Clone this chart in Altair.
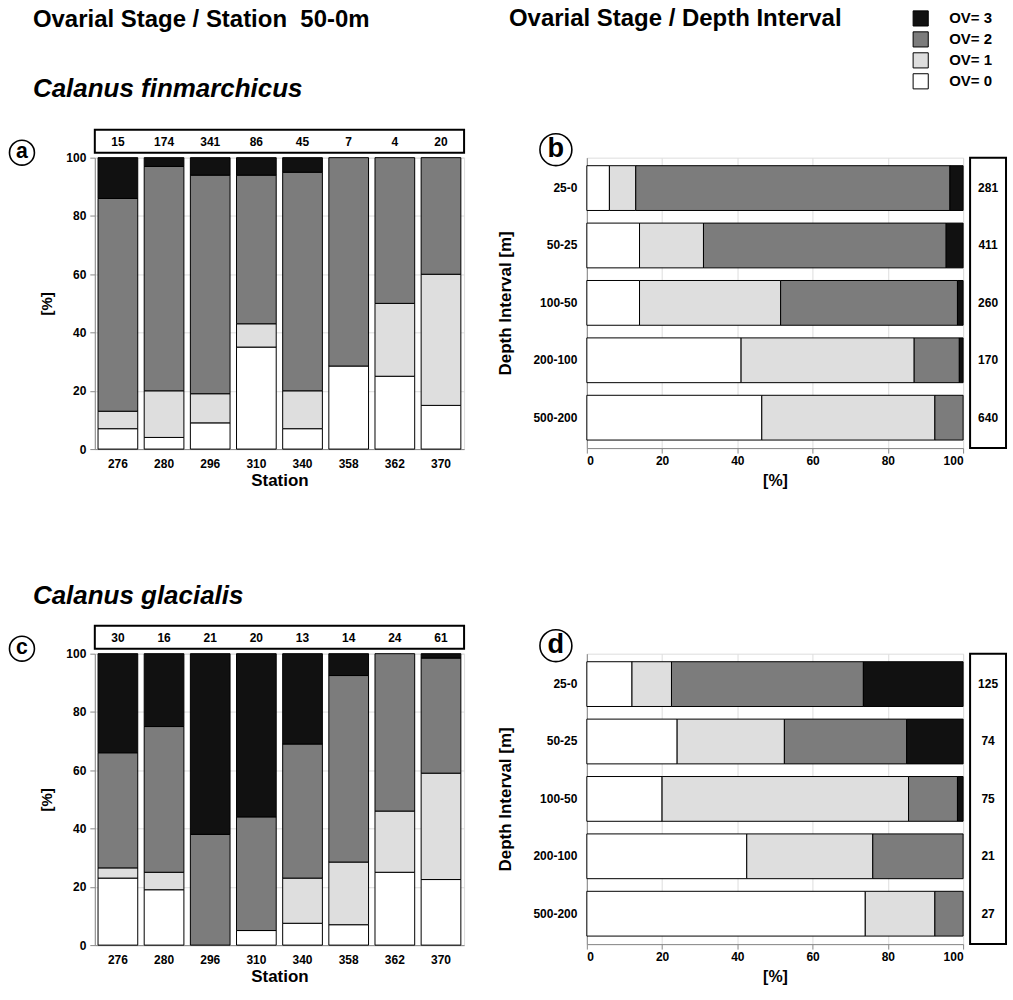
import altair as alt
import pandas as pd

FONT = "Liberation Sans"

stations = ["276", "280", "296", "310", "340", "358", "362", "370"]
depths = ["25-0", "50-25", "100-50", "200-100", "500-200"]
stages = ["OV= 3", "OV= 2", "OV= 1", "OV= 0"]
stage_colors = ["#111111", "#7c7c7c", "#dedede", "#ffffff"]

# Panel a: Calanus finmarchicus, per station (percent)
a_ov0 = [7, 4, 9, 35, 7, 28.5, 25, 15]
a_ov1 = [6, 16, 10, 8, 13, 0, 25, 45]
a_ov2 = [73, 77, 75, 51, 75, 71.5, 50, 40]
a_ov3 = [14, 3, 6, 6, 5, 0, 0, 0]
a_n = [15, 174, 341, 86, 45, 7, 4, 20]

# Panel b: Calanus finmarchicus, per depth interval
b_ov0 = [6, 14, 14, 41, 46.5]
b_ov1 = [7, 17, 37.5, 46, 46]
b_ov2 = [83.5, 64.5, 47, 12, 7.5]
b_ov3 = [3.5, 4.5, 1.5, 1, 0]
b_n = [281, 411, 260, 170, 640]

# Panel c: Calanus glacialis, per station
c_ov0 = [23, 19, 0, 5, 7.5, 7, 25, 22.5]
c_ov1 = [3.5, 6, 0, 0, 15.5, 21.5, 21, 36.5]
c_ov2 = [39.5, 50, 38, 39, 46, 64, 54, 39.5]
c_ov3 = [34, 25, 62, 56, 31, 7.5, 0, 1.5]
c_n = [30, 16, 21, 20, 13, 14, 24, 61]

# Panel d: Calanus glacialis, per depth interval
d_ov0 = [12, 24, 20, 42.5, 74]
d_ov1 = [10.5, 28.5, 65.5, 33.5, 18.5]
d_ov2 = [51, 32.5, 13, 24, 7.5]
d_ov3 = [26.5, 15, 1.5, 0, 0]
d_n = [125, 74, 75, 21, 27]

AW, AH = 370, 292
BW, BH = 377, 291

color_scale = alt.Scale(domain=stages, range=stage_colors)


def long_df(cats, key, ov0, ov1, ov2, ov3):
    rows = []
    for i, c in enumerate(cats):
        for s, o, v in (("OV= 0", 0, ov0[i]), ("OV= 1", 1, ov1[i]),
                        ("OV= 2", 2, ov2[i]), ("OV= 3", 3, ov3[i])):
            if v > 0:
                rows.append({key: c, "stage": s, "ord": o, "value": v})
    return pd.DataFrame(rows)


one = pd.DataFrame({"k": [0]})


def label_layers(letter, lx, ly, d):
    circ = alt.Chart(one).mark_point(shape="circle", filled=False, stroke="black",
                                     strokeWidth=1.6, size=d * d, opacity=1).encode(
        x=alt.value(lx), y=alt.value(ly))
    txt = alt.Chart(one).mark_text(font=FONT, fontSize=d * 0.85, fontWeight="bold",
                                   baseline="middle", align="center", dy=-1).encode(
        x=alt.value(lx), y=alt.value(ly), text=alt.value(letter))
    return [circ, txt]


def text_layer(s, x, y, size, style="normal"):
    return alt.Chart(one).mark_text(font=FONT, fontSize=size, fontWeight="bold",
                                    fontStyle=style, align="left",
                                    baseline="alphabetic").encode(
        x=alt.value(x), y=alt.value(y), text=alt.value(s))


def ax(**kw):
    return alt.Axis(labelFont=FONT, titleFont=FONT, labelFontWeight="bold",
                    titleFontWeight="bold", labelColor="black", titleColor="black",
                    **kw)


def station_panel(ov0, ov1, ov2, ov3, n, letter, extra):
    df = long_df(stations, "station", ov0, ov1, ov2, ov3)
    xenc = alt.X("station:N", sort=stations,
                 scale=alt.Scale(paddingInner=0.14, paddingOuter=0.07),
                 axis=ax(title="Station", labelAngle=0, ticks=False,
                         labelPadding=9, titlePadding=3, titleFontSize=17,
                         labelFontSize=12))
    bars = alt.Chart(df).mark_bar(stroke="black", strokeWidth=1).encode(
        x=xenc,
        y=alt.Y("value:Q", stack="zero", scale=alt.Scale(domain=[0, 100]),
                axis=ax(title="[%]", values=[0, 20, 40, 60, 80, 100],
                        tickSize=5, labelPadding=4, titlePadding=11,
                        titleFontSize=15, labelFontSize=12)),
        color=alt.Color("stage:N", scale=color_scale, legend=None),
        order=alt.Order("ord:Q"),
    )
    cdf = pd.DataFrame({"station": stations, "n": n})
    box = alt.Chart(one).mark_rect(fill="white", stroke="black", strokeWidth=2).encode(
        x=alt.value(0), x2=alt.value(AW), y=alt.value(-28), y2=alt.value(-5))
    counts = alt.Chart(cdf).mark_text(font=FONT, fontSize=12, fontWeight="bold").encode(
        x=alt.X("station:N", sort=stations), y=alt.value(-16), text="n:N")
    layers = [bars, box, counts] + label_layers(letter, -73, -5, 25) + extra
    return alt.layer(*layers).properties(width=AW, height=AH)


def depth_panel(ov0, ov1, ov2, ov3, n, letter, extra, legend):
    df = long_df(depths, "depth", ov0, ov1, ov2, ov3)
    if legend:
        leg = alt.Legend(orient="none", legendX=326, legendY=-148, title=None,
                         symbolType="square", symbolSize=230, symbolStrokeColor="black",
                         symbolStrokeWidth=1, labelFont=FONT, labelFontSize=15,
                         labelFontWeight="bold", labelOffset=20, rowPadding=0,
                         padding=0, labelColor="black")
    else:
        leg = None
    bars = alt.Chart(df).mark_bar(stroke="black", strokeWidth=1).encode(
        y=alt.Y("depth:N", sort=depths,
                scale=alt.Scale(paddingInner=0.22, paddingOuter=0.14),
                axis=ax(title="Depth Interval  [m]", ticks=False, labelPadding=10,
                        titlePadding=18, titleFontSize=17, labelFontSize=12)),
        x=alt.X("value:Q", stack="zero", scale=alt.Scale(domain=[0, 100]),
                axis=ax(title="[%]", values=[0, 20, 40, 60, 80, 100], tickSize=5,
                        labelPadding=2, titlePadding=6, titleFontSize=16,
                        labelFontSize=12)),
        color=alt.Color("stage:N", scale=color_scale, legend=leg),
        order=alt.Order("ord:Q"),
    )
    cdf = pd.DataFrame({"depth": depths, "n": n})
    box = alt.Chart(one).mark_rect(fill="white", stroke="black", strokeWidth=2).encode(
        x=alt.value(BW + 7), x2=alt.value(BW + 43), y=alt.value(0), y2=alt.value(BH))
    counts = alt.Chart(cdf).mark_text(font=FONT, fontSize=12, fontWeight="bold").encode(
        y=alt.Y("depth:N", sort=depths), x=alt.value(BW + 25), text="n:N")
    layers = [bars, box, counts] + label_layers(letter, -31, -8, 32) + extra
    return alt.layer(*layers).properties(width=BW, height=BH)


pa = station_panel(a_ov0, a_ov1, a_ov2, a_ov3, a_n, "a",
                   [text_layer("Ovarial Stage / Station\u00a0\u00a050-0m", -62, -131, 24),
                    text_layer("Calanus finmarchicus", -62, -61, 26, "italic")])
pb = depth_panel(b_ov0, b_ov1, b_ov2, b_ov3, b_n, "b",
                 [text_layer("Ovarial Stage / Depth Interval", -78, -132, 24)], True)
pc = station_panel(c_ov0, c_ov1, c_ov2, c_ov3, c_n, "c",
                   [text_layer("Calanus glacialis", -62, -50, 26, "italic")])
pd_ = depth_panel(d_ov0, d_ov1, d_ov2, d_ov3, d_n, "d", [], False)

row1 = alt.hconcat(pa, pb, spacing=123, bounds="flush").resolve_scale(color="independent")
row2 = alt.hconcat(pc, pd_, spacing=123, bounds="flush").resolve_scale(color="independent")

chart = alt.vconcat(row1, row2, spacing=497, bounds="flush").resolve_scale(
    color="independent"
).properties(
    padding={"left": 5, "top": 5, "right": 5, "bottom": 5}
).configure_view(
    stroke="black", strokeWidth=1
).configure_axis(
    domainColor="black", tickColor="black", domainWidth=1.5, grid=False
).configure(background="white")

chart.save("out.html", embed_options={"renderer": "svg", "actions": False})
